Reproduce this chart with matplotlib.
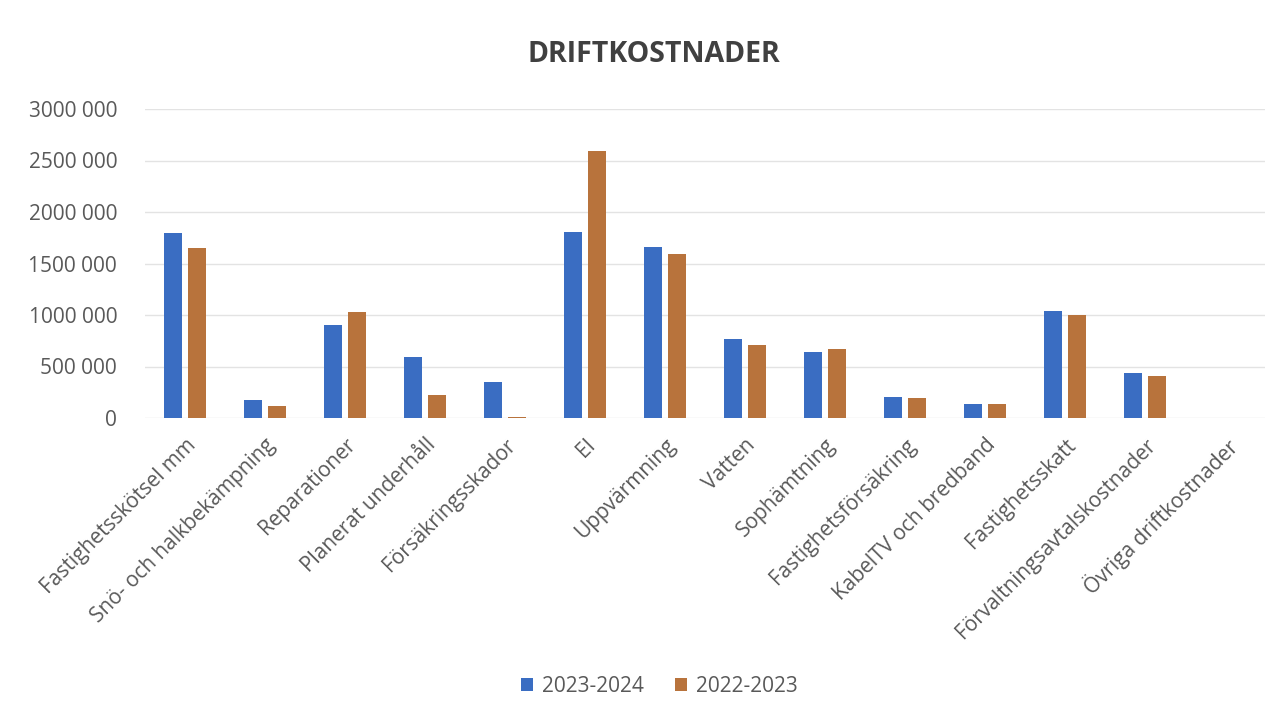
import matplotlib
matplotlib.use("Agg")
import matplotlib.pyplot as plt
import numpy as np
from matplotlib.ticker import FuncFormatter

categories = ["Fastighetsskötsel mm", "Snö- och halkbekämpning", "Reparationer",
              "Planerat underhåll", "Försäkringsskador", "El", "Uppvärmning",
              "Vatten", "Sophämtning", "Fastighetsförsäkring", "KabelTV och bredband",
              "Fastighetsskatt", "Förvaltningsavtalskostnader", "Övriga driftkostnader"]
series_names = ["2023-2024", "2022-2023"]
values_2023_2024 = [1800000, 170000, 900000, 590000, 345000, 1810000, 1660000,
                    770000, 640000, 205000, 135000, 1040000, 440000, 0]
values_2022_2023 = [1655000, 118000, 1030000, 228000, 5000, 2590000, 1590000,
                    710000, 672000, 193000, 135000, 1000000, 405000, 0]
yticks = [0, 500000, 1000000, 1500000, 2000000, 2500000, 3000000]

blue = "#3a6dc2"
orange = "#b8733c"
txt = "#595959"

plt.rcParams['font.family'] = ['Open Sans', 'DejaVu Sans']

fig = plt.figure(figsize=(12.85, 7.18), dpi=100)
ax = fig.add_axes([145/1285, 1-418/718, (1265-145)/1285, (418-109)/718])

x = np.arange(len(categories))
w = 0.225
off = 0.144
ax.bar(x - off, values_2023_2024, w, color=blue, label=series_names[0], zorder=3)
ax.bar(x + off, values_2022_2023, w, color=orange, label=series_names[1], zorder=3)

ax.set_xlim(-0.5, len(categories) - 0.5)
ax.set_ylim(0, 3000000)
ax.set_yticks(yticks)

def fmt(v, pos):
    v = int(v)
    if v == 0:
        return "0"
    s = f"{v:,}".replace(",", " ")
    parts = s.split(" ")
    if len(parts) == 3:
        return parts[0] + parts[1] + " " + parts[2]
    return s

ax.yaxis.set_major_formatter(FuncFormatter(fmt))
ax.grid(axis='y', color="#e3e3e3", linewidth=1, zorder=0)
for s in ax.spines.values():
    s.set_visible(False)
ax.tick_params(axis='both', length=0, colors=txt)
ax.tick_params(axis='y', labelsize=15, pad=20)
ax.set_xticks(x)
ax.set_xticklabels(categories, rotation=45, ha='right', rotation_mode='anchor', fontsize=15, color=txt)
ax.tick_params(axis='x', pad=12)

fig.text(654/1285, 1-55/718, "DRIFTKOSTNADER", ha='center', va='center', fontsize=20.5,
         fontweight='bold', color="#404040")

leg = fig.legend(loc='center', bbox_to_anchor=(659/1285, 1-686/718), ncol=2, frameon=False,
                 fontsize=15, handlelength=0.6, handleheight=0.6, handletextpad=0.4,
                 columnspacing=1.5)
for t in leg.get_texts():
    t.set_color(txt)

fig.savefig("out.png", dpi=100, facecolor="white")
